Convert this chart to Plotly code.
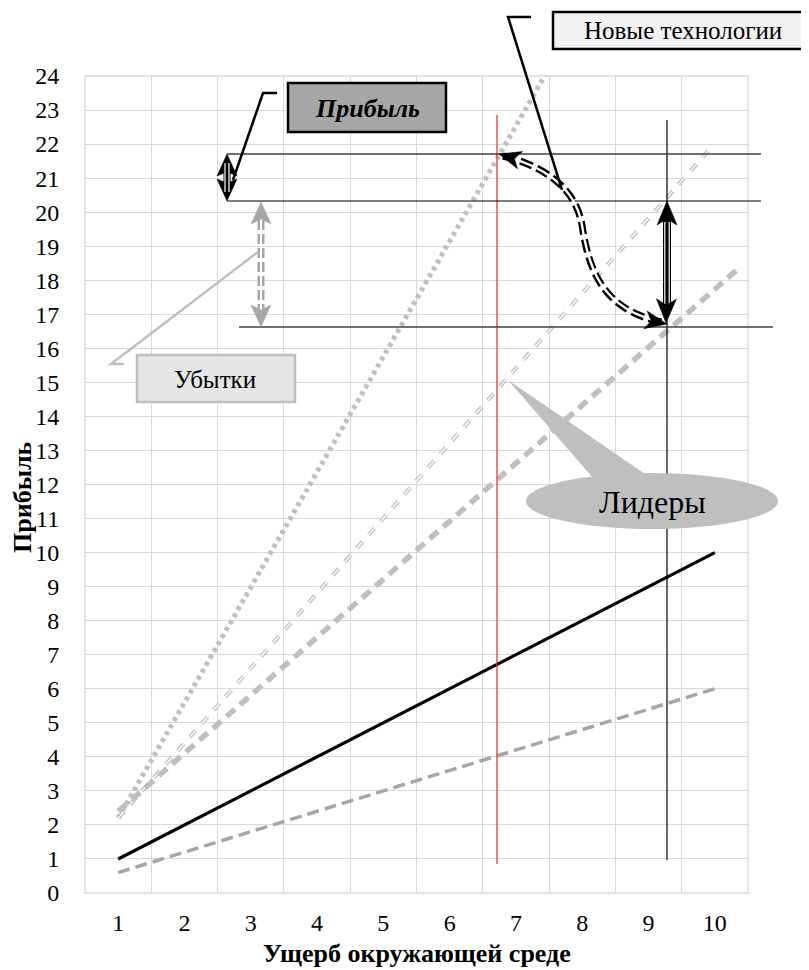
import plotly.graph_objects as go
import math

# ---------------- data ----------------
x_main = [1, 2, 3, 4, 5, 6, 7, 8, 9, 10]
profit_base = [1, 2, 3, 4, 5, 6, 7, 8, 9, 10]
profit_low = [0.6, 1.2, 1.8, 2.4, 3.0, 3.6, 4.2, 4.8, 5.4, 6.0]

x_thin = [1, 2, 3, 4, 5, 6, 7, 8, 9, 9.9]
profit_thin = [2.2, 4.4, 6.6, 8.8, 11.0, 13.2, 15.4, 17.6, 19.8, 21.8]

x_thick = [1, 2, 3, 4, 5, 6, 7, 8, 9, 10, 10.33]
profit_thick = [2.4, 4.1, 5.8, 7.5, 9.2, 10.9, 12.6, 14.3, 16.0, 17.7, 18.3]

x_dot = [1, 2, 3, 4, 5, 6, 7, 7.55]
profit_dot = [2.2, 5.6, 9.0, 12.4, 15.8, 19.2, 22.6, 24.4]

x_ticks = [1, 2, 3, 4, 5, 6, 7, 8, 9, 10]
y_ticks = list(range(0, 25))

FONT = "Liberation Serif, Times New Roman, serif"

# ---------------- layout geometry ----------------
# the page body has an 8px margin, so the figure is 8px smaller than the window
OFF = 8
W, H = 801, 962
PLOT_L, PLOT_R, PLOT_T, PLOT_B = 85, 748, 76, 893   # page pixels
L_M = PLOT_L - OFF
T_M = PLOT_T - OFF
R_M = W - (PLOT_R - OFF)
B_M = H - (PLOT_B - OFF)
PW = PLOT_R - PLOT_L
PH = PLOT_B - PLOT_T


def P(px, py):
    return ((px - PLOT_L) / PW, (PLOT_B - py) / PH)


def path_of(pts, close=False):
    s = ""
    for i, (px, py) in enumerate(pts):
        X, Y = P(px, py)
        s += ("M" if i == 0 else " L") + f"{X:.5f},{Y:.5f}"
    if close:
        s += " Z"
    return s


shapes = []


def line_shape(pts, color, width, dash="solid"):
    shapes.append(dict(type="path", xref="paper", yref="paper", path=path_of(pts),
                       line=dict(color=color, width=width, dash=dash), layer="above"))


def poly_shape(pts, fill, line_color=None, width=0):
    shapes.append(dict(type="path", xref="paper", yref="paper", path=path_of(pts, True),
                       fillcolor=fill,
                       line=dict(color=line_color or fill, width=width), layer="above"))


def rect_shape(x0, y0, x1, y1, fill, border, width):
    X0, Y0 = P(x0, y1)
    X1, Y1 = P(x1, y0)
    shapes.append(dict(type="rect", xref="paper", yref="paper", x0=X0, y0=Y0, x1=X1, y1=Y1,
                       fillcolor=fill, line=dict(color=border, width=width), layer="above"))


def arrowhead(tip, frm, color, Lh=22, Wh=10, notch=5):
    tx, ty = tip
    dx, dy = tx - frm[0], ty - frm[1]
    n = math.hypot(dx, dy)
    dx, dy = dx / n, dy / n
    nx, ny = -dy, dx
    bx, by = tx - Lh * dx, ty - Lh * dy
    pts = [(tx, ty), (bx + Wh * nx, by + Wh * ny),
           (tx - (Lh - notch) * dx, ty - (Lh - notch) * dy),
           (bx - Wh * nx, by - Wh * ny)]
    poly_shape(pts, color, color, 0.5)


# plot border (gridline colour)
shapes.append(dict(type="rect", xref="paper", yref="paper", x0=0, y0=0, x1=1, y1=1,
                   line=dict(color="#d9d9d9", width=1.3), layer="below"))

# reference lines
line_shape([(497, 115), (497, 864)], "#e03c3c", 1.3)
line_shape([(667, 120), (667, 860)], "#000000", 1.2)
line_shape([(227, 154), (761, 154)], "#404040", 1.3)
line_shape([(227, 201), (761, 201)], "#000000", 1.2)
line_shape([(239, 327), (773, 327)], "#404040", 1.3)

# ---- gray dashed double arrow (losses) ----
line_shape([(261, 220), (261, 310)], "#a6a6a6", 7, "10px,4px")
line_shape([(261, 215), (261, 315)], "#ffffff", 2)
arrowhead((261, 202), (261, 260), "#a6a6a6", 22, 10, 5)
arrowhead((261, 327), (261, 260), "#a6a6a6", 22, 10, 5)

# ---- black double arrow (profit, left) ----
line_shape([(227, 170), (227, 186)], "#000000", 7)
arrowhead((227, 154), (227, 178), "#000000", 22, 10, 4)
arrowhead((227, 201), (227, 178), "#000000", 22, 10, 4)
line_shape([(225, 163), (225, 192)], "#ffffff", 1.2)
line_shape([(229, 163), (229, 192)], "#ffffff", 1.2)

# ---- black double arrow (right) ----
line_shape([(667, 218), (667, 308)], "#000000", 8)
line_shape([(664.8, 222), (664.8, 304)], "#ffffff", 1.2)
line_shape([(669.2, 222), (669.2, 304)], "#ffffff", 1.2)
arrowhead((667, 201), (667, 260), "#000000", 24, 10, 6)
arrowhead((666, 323), (667, 260), "#000000", 24, 10, 6)

# ---- curved dashed double arrow ----
cpts = [(503, 156), (540, 165), (575, 185), (582, 225), (588, 265), (600, 310), (662, 322)]
cp = [P(*p) for p in cpts]
cpath = (f"M{cp[0][0]:.5f},{cp[0][1]:.5f} C{cp[1][0]:.5f},{cp[1][1]:.5f} "
         f"{cp[2][0]:.5f},{cp[2][1]:.5f} {cp[3][0]:.5f},{cp[3][1]:.5f} "
         f"C{cp[4][0]:.5f},{cp[4][1]:.5f} {cp[5][0]:.5f},{cp[5][1]:.5f} {cp[6][0]:.5f},{cp[6][1]:.5f}")
shapes.append(dict(type="path", xref="paper", yref="paper", path=cpath,
                   line=dict(color="#000000", width=7, dash="13px,5px"), layer="above"))
shapes.append(dict(type="path", xref="paper", yref="paper", path=cpath,
                   line=dict(color="#ffffff", width=2.3), layer="above"))
arrowhead((499, 154), (540, 166), "#000000", 22, 9, 6)
arrowhead((667, 324), (605, 312), "#000000", 22, 9, 6)

# ---- callout: Новые технологии ----
line_shape([(531, 17), (508, 17), (562, 190)], "#000000", 2.5)
rect_shape(553, 12, 806, 49, "#f2f2f2", "#000000", 2.5)

# ---- callout: Прибыль ----
line_shape([(277, 93), (263, 93), (233, 180)], "#000000", 2.5)
rect_shape(288, 83, 446, 132, "#a6a6a6", "#000000", 2.5)

# ---- callout: Убытки ----
line_shape([(124, 364), (111, 364), (258, 252)], "#bfbfbf", 2.5)
rect_shape(137, 355, 295, 402, "#e6e6e6", "#bfbfbf", 2.5)

# ---- callout: Лидеры ----
poly_shape([(508, 380), (593, 478), (648, 476)], "#bfbfbf")
EX0, EY0 = P(526, 529)
EX1, EY1 = P(778, 473)
shapes.append(dict(type="circle", xref="paper", yref="paper", x0=EX0, y0=EY0, x1=EX1, y1=EY1,
                   fillcolor="#bfbfbf", line=dict(color="#bfbfbf", width=0), layer="above"))

# ---------------- traces ----------------
fig = go.Figure()
fig.add_trace(go.Scatter(x=x_dot, y=profit_dot, mode="lines",
                         line=dict(color="#bfbfbf", width=5, dash="4px,4px")))
fig.add_trace(go.Scatter(x=x_thin, y=profit_thin, mode="lines",
                         line=dict(color="#bfbfbf", width=4, dash="9px,9px")))
fig.add_trace(go.Scatter(x=x_thin, y=profit_thin, mode="lines",
                         line=dict(color="#ffffff", width=1.4, dash="9px,9px")))
fig.add_trace(go.Scatter(x=x_thick, y=profit_thick, mode="lines",
                         line=dict(color="#bfbfbf", width=5.5, dash="11px,7px")))
fig.add_trace(go.Scatter(x=x_main, y=profit_low, mode="lines",
                         line=dict(color="#a6a6a6", width=3.5, dash="12px,6px")))
fig.add_trace(go.Scatter(x=x_main, y=profit_base, mode="lines",
                         line=dict(color="#000000", width=3.2)))

# ---------------- annotations ----------------
ann = []


def text_at(px, py, txt, size, **kw):
    X, Y = P(px, py)
    ann.append(dict(x=X, y=Y, xref="paper", yref="paper", text=txt, showarrow=False,
                    xanchor="center", yanchor="middle",
                    font=dict(family=FONT, size=size, color="#000000"), **kw))


text_at(367, 108, "<b><i>Прибыль</i></b>", 26)
text_at(683, 31, "Новые технологии", 25)
text_at(215, 379, "Убытки", 25)
text_at(652, 502, "Лидеры", 32)
text_at(417, 954, "<b>Ущерб окружающей среде</b>", 26)
text_at(22, 497, "<b>Прибыль</b>", 26, textangle=-90)

fig.update_layout(
    width=W, height=H,
    margin=dict(l=L_M, r=R_M, t=T_M, b=B_M),
    paper_bgcolor="#ffffff", plot_bgcolor="#ffffff",
    showlegend=False,
    shapes=shapes, annotations=ann,
    font=dict(family=FONT, size=24, color="#000000"),
)
fig.update_xaxes(
    range=[0.5, 10.5], tickmode="array", tickvals=x_ticks,
    ticktext=[str(v) for v in x_ticks],
    showgrid=False, zeroline=False, showline=False,
    ticks="outside", ticklen=8, tickcolor="rgba(0,0,0,0)",
    tickfont=dict(family=FONT, size=24, color="#000000"),
    minor=dict(tickvals=[v + 0.5 for v in [0] + x_ticks], showgrid=True,
               gridcolor="#d9d9d9", gridwidth=1.3, ticks=""),
)
fig.update_yaxes(
    range=[0, 24], tickmode="array", tickvals=y_ticks,
    showgrid=True, gridcolor="#d9d9d9", gridwidth=1.3,
    zeroline=False, showline=False,
    ticks="outside", ticklen=20, tickcolor="rgba(0,0,0,0)",
    tickfont=dict(family=FONT, size=24, color="#000000"),
)

fig.write_html("out.html")
